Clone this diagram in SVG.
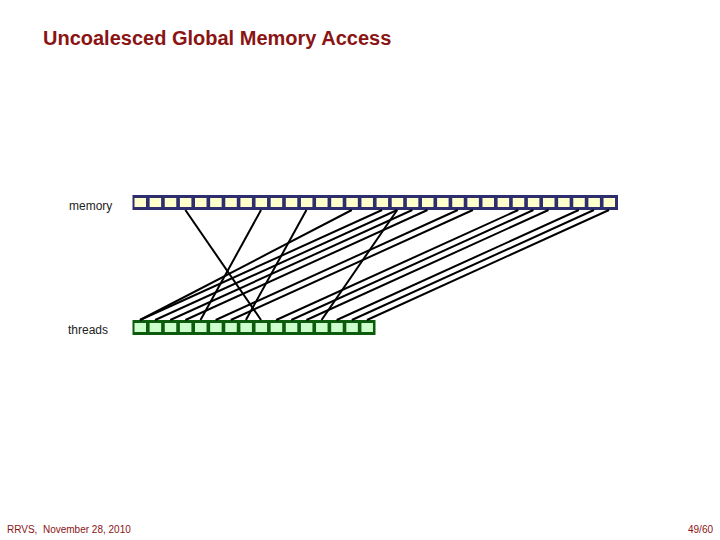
<svg xmlns="http://www.w3.org/2000/svg" width="720" height="540" viewBox="0 0 720 540">
<style>
.title{font-family:"Liberation Sans",Arial,sans-serif;font-weight:bold;font-size:20px;fill:#8a1414}
.lbl{font-family:"Liberation Sans",Arial,sans-serif;font-size:12px;fill:#222}
.foot{font-family:"Liberation Sans",Arial,sans-serif;font-size:10px;fill:#8a1414}
.mbar{fill:#2e2e6e}
.mcell{fill:#ffffcc}
.tbar{fill:#0d5c0d}
.tcell{fill:#ccffcc}
.conn line{stroke:#000;stroke-width:2}
</style>
<rect width="720" height="540" fill="#fff"/>
<text class="title" x="43" y="45">Uncoalesced Global Memory Access</text>
<text class="lbl" x="69" y="210">memory</text>
<text class="lbl" x="68" y="334">threads</text>
<g id="memory">
<rect class="mbar" x="132.5" y="195" width="485.5" height="15"/>
<rect class="mcell" x="134.5" y="198" width="11.5" height="9"/>
<rect class="mcell" x="149.63" y="198" width="11.5" height="9"/>
<rect class="mcell" x="164.76" y="198" width="11.5" height="9"/>
<rect class="mcell" x="179.89" y="198" width="11.5" height="9"/>
<rect class="mcell" x="195.02" y="198" width="11.5" height="9"/>
<rect class="mcell" x="210.15" y="198" width="11.5" height="9"/>
<rect class="mcell" x="225.28" y="198" width="11.5" height="9"/>
<rect class="mcell" x="240.41" y="198" width="11.5" height="9"/>
<rect class="mcell" x="255.54" y="198" width="11.5" height="9"/>
<rect class="mcell" x="270.67" y="198" width="11.5" height="9"/>
<rect class="mcell" x="285.8" y="198" width="11.5" height="9"/>
<rect class="mcell" x="300.93" y="198" width="11.5" height="9"/>
<rect class="mcell" x="316.06" y="198" width="11.5" height="9"/>
<rect class="mcell" x="331.19" y="198" width="11.5" height="9"/>
<rect class="mcell" x="346.32" y="198" width="11.5" height="9"/>
<rect class="mcell" x="361.45" y="198" width="11.5" height="9"/>
<rect class="mcell" x="376.58" y="198" width="11.5" height="9"/>
<rect class="mcell" x="391.71" y="198" width="11.5" height="9"/>
<rect class="mcell" x="406.84" y="198" width="11.5" height="9"/>
<rect class="mcell" x="421.97" y="198" width="11.5" height="9"/>
<rect class="mcell" x="437.1" y="198" width="11.5" height="9"/>
<rect class="mcell" x="452.23" y="198" width="11.5" height="9"/>
<rect class="mcell" x="467.36" y="198" width="11.5" height="9"/>
<rect class="mcell" x="482.49" y="198" width="11.5" height="9"/>
<rect class="mcell" x="497.62" y="198" width="11.5" height="9"/>
<rect class="mcell" x="512.75" y="198" width="11.5" height="9"/>
<rect class="mcell" x="527.88" y="198" width="11.5" height="9"/>
<rect class="mcell" x="543.01" y="198" width="11.5" height="9"/>
<rect class="mcell" x="558.14" y="198" width="11.5" height="9"/>
<rect class="mcell" x="573.27" y="198" width="11.5" height="9"/>
<rect class="mcell" x="588.4" y="198" width="11.5" height="9"/>
<rect class="mcell" x="603.53" y="198" width="11.5" height="9"/>
</g>
<g id="threads">
<rect class="tbar" x="132.5" y="320" width="243" height="15"/>
<rect class="tcell" x="134.5" y="323" width="11.5" height="9"/>
<rect class="tcell" x="149.63" y="323" width="11.5" height="9"/>
<rect class="tcell" x="164.76" y="323" width="11.5" height="9"/>
<rect class="tcell" x="179.89" y="323" width="11.5" height="9"/>
<rect class="tcell" x="195.02" y="323" width="11.5" height="9"/>
<rect class="tcell" x="210.15" y="323" width="11.5" height="9"/>
<rect class="tcell" x="225.28" y="323" width="11.5" height="9"/>
<rect class="tcell" x="240.41" y="323" width="11.5" height="9"/>
<rect class="tcell" x="255.54" y="323" width="11.5" height="9"/>
<rect class="tcell" x="270.67" y="323" width="11.5" height="9"/>
<rect class="tcell" x="285.8" y="323" width="11.5" height="9"/>
<rect class="tcell" x="300.93" y="323" width="11.5" height="9"/>
<rect class="tcell" x="316.06" y="323" width="11.5" height="9"/>
<rect class="tcell" x="331.19" y="323" width="11.5" height="9"/>
<rect class="tcell" x="346.32" y="323" width="11.5" height="9"/>
<rect class="tcell" x="361.45" y="323" width="11.5" height="9"/>
</g>
<g id="connectors" class="conn">
<line x1="261.04" y1="320" x2="185.39" y2="210"/>
<line x1="200.52" y1="320" x2="261.04" y2="210"/>
<line x1="245.91" y1="320" x2="306.43" y2="210"/>
<line x1="321.56" y1="320" x2="397.21" y2="210"/>
<line x1="140" y1="320" x2="351.82" y2="210"/>
<line x1="140" y1="320" x2="382.08" y2="210"/>
<line x1="155.13" y1="320" x2="397.21" y2="210"/>
<line x1="170.26" y1="320" x2="412.34" y2="210"/>
<line x1="185.39" y1="320" x2="427.47" y2="210"/>
<line x1="215.65" y1="320" x2="457.73" y2="210"/>
<line x1="230.78" y1="320" x2="472.86" y2="210"/>
<line x1="276.17" y1="320" x2="518.25" y2="210"/>
<line x1="291.3" y1="320" x2="533.38" y2="210"/>
<line x1="306.43" y1="320" x2="548.51" y2="210"/>
<line x1="336.69" y1="320" x2="578.77" y2="210"/>
<line x1="351.82" y1="320" x2="593.9" y2="210"/>
<line x1="366.95" y1="320" x2="609.03" y2="210"/>
</g>
<text class="foot" x="7" y="533" xml:space="preserve">RRVS,  November 28, 2010</text>
<text class="foot" x="688" y="533">49/60</text>
</svg>
